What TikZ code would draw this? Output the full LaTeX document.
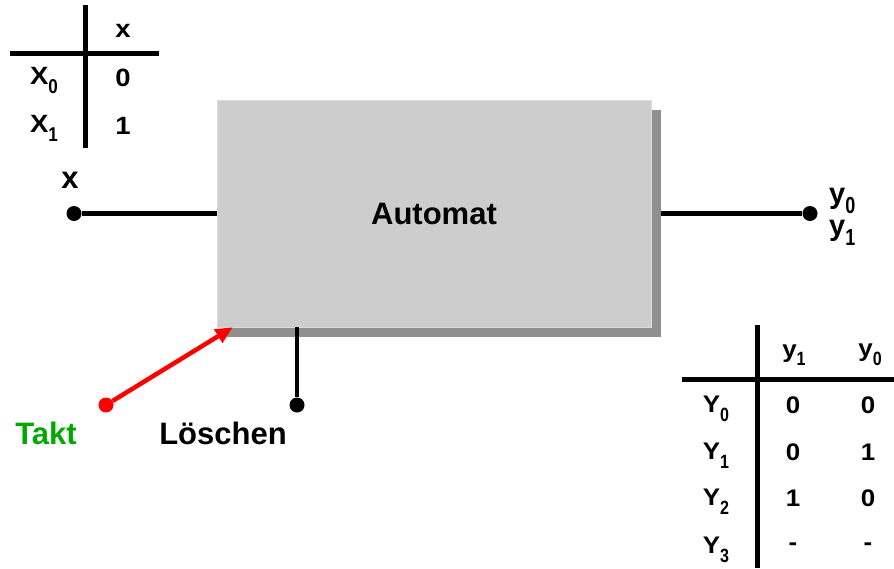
\documentclass[tikz,border=0pt]{standalone}
\usepackage{fontspec}
\setmainfont{Liberation Sans}
\usepackage{graphicx}
\usetikzlibrary{arrows.meta,shadows}

\definecolor{boxgray}{HTML}{CDCDCD}
\definecolor{shadegray}{HTML}{8F8F8F}
\definecolor{taktgreen}{HTML}{00A800}

% lowered, narrow index digit
\newcommand\lowsub[1]{\raisebox{-0.36em}{\scalebox{0.62}[0.8]{#1}}}

\tikzset{
  big/.style={font=\fontsize{31}{31}\selectfont\bfseries, inner sep=0pt},
  ltab/.style={font=\fontsize{25}{25}\selectfont\bfseries, inner sep=0pt, xscale=1.1, transform shape},
  rtab/.style={font=\fontsize{24}{24}\selectfont\bfseries, inner sep=0pt, xscale=1.08, transform shape},
  outlbl/.style={font=\fontsize{29}{29}\selectfont\bfseries, inner sep=0pt, anchor=west},
  wire/.style={line width=4.5pt},
  rule/.style={line width=5pt},
  pin/.style={circle, fill, inner sep=0pt, minimum size=15pt},
}

\begin{document}
\begin{tikzpicture}[x=1pt, y=-1pt]
\useasboundingbox (0,0) rectangle (894,568);

% the automaton block with its shadow
\node[big, fill=boxgray, draw=boxgray!70!white, line width=0.6pt,
      minimum width=434pt, minimum height=227pt,
      general shadow={fill=shadegray, shadow xshift=10pt, shadow yshift=-10pt}]
      (auto) at (434,213.5) {Automat};

% input x
\node[pin] (xin) at (74,213.5) {};
\draw[wire] (xin) -- (auto.west);
\node[big] (xlbl) at (70,180) {x};

% outputs y0, y1
\node[pin] (yout) at (810,213.5) {};
\draw[wire] ([xshift=10pt]auto.east) -- (yout);
\node[outlbl] (y0lbl) at (829,201) {y\lowsub{0}};
\node[outlbl] (y1lbl) at (829,233) {y\lowsub{1}};

% clear input
\node[pin] (clr) at (297,405) {};
\draw[wire] (clr |- auto.south) -- (clr);
\node[big] (clrlbl) at (223,433) {Löschen};

% clock input
\node[pin, fill=red] (clk) at (106,405) {};
\coordinate (clktip) at ([xshift=16pt]auto.south west);
\draw[wire, red, -{Triangle[length=17pt,width=15pt]}] (clk) -- (clktip);
\node[big, text=taktgreen] (clklbl) at (46,433) {Takt};

% input coding table
\draw[rule] (85,5) -- (85,148);
\draw[rule] (10,53) -- (159,53);
\node[ltab] (lh) at (123,31) {x};
\node[ltab] (lr0) at (44,80) {X\lowsub{0}};
\node[ltab] (lr1) at (44,128) {X\lowsub{1}};
\node[ltab] (lv0) at (123,78) {0};
\node[ltab] (lv1) at (123,126) {1};

% output coding table
\draw[rule] (757,325) -- (757,568);
\draw[rule] (682,379) -- (894,379);
\node[rtab] (rh1) at (794,355) {y\lowsub{1}};
\node[rtab] (rh0) at (870,355) {y\lowsub{0}};
\node[rtab] (r0) at (716,409) {Y\lowsub{0}};
\node[rtab] (r1) at (716,456) {Y\lowsub{1}};
\node[rtab] (r2) at (716,502) {Y\lowsub{2}};
\node[rtab] (r3) at (716,550) {Y\lowsub{3}};
\node[rtab] at (793,405) {0};
\node[rtab] at (868,405) {0};
\node[rtab] at (793,452) {0};
\node[rtab] at (868,452) {1};
\node[rtab] at (793,498) {1};
\node[rtab] at (868,498) {0};
\node[rtab] at (793,547) {-};
\node[rtab] at (868,547) {-};
\end{tikzpicture}
\end{document}
